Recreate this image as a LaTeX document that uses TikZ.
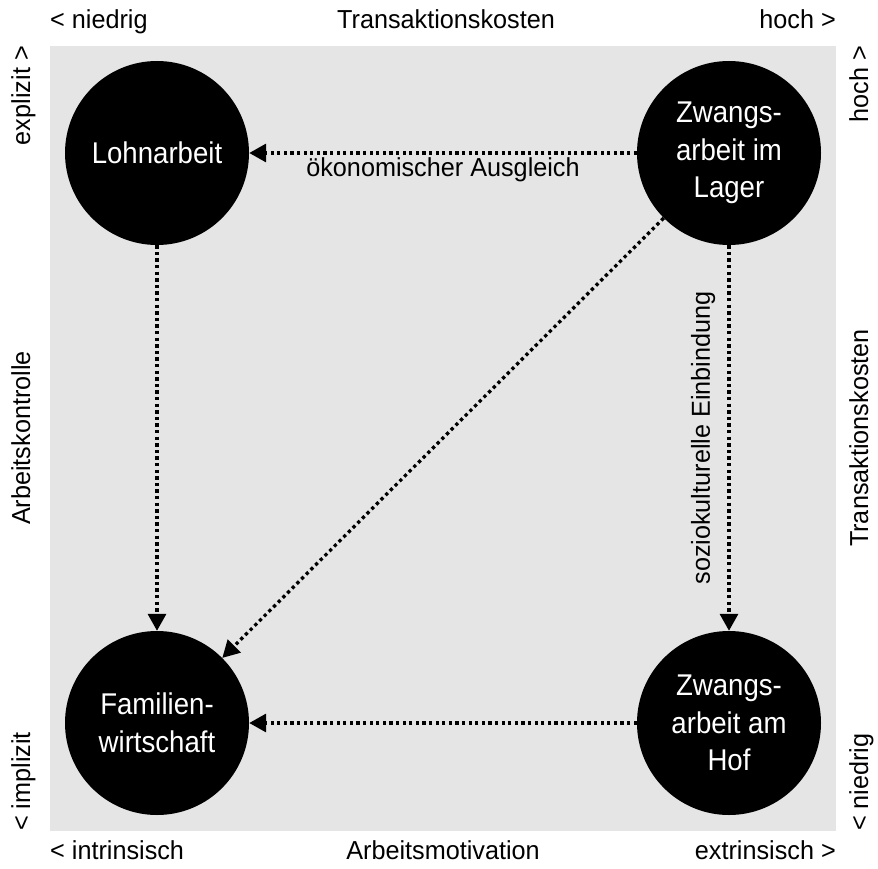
\documentclass[tikz,border=0pt]{standalone}
\usepackage{fontspec}
\setmainfont[FakeStretch=0.92]{Liberation Sans}
\newfontfamily\labelfont[FakeStretch=0.97]{Liberation Sans}
\usetikzlibrary{arrows.meta}

\begin{document}
\begin{tikzpicture}[x=1pt,y=-1pt,>={Triangle[length=17pt,width=18pt]},
		main node/.style={circle,fill=black,text=white,minimum size=184pt,inner sep=0pt,
			align=center,font=\fontsize{30}{37.5}\selectfont},
		axis label/.style={inner sep=0pt,font=\labelfont\fontsize{26}{31}\selectfont},
		link/.style={->,line width=3.3pt,dash pattern=on 3.3pt off 3.3pt}]
		\useasboundingbox (0,0) rectangle (878,869);
		\fill[gray!20] (50,46) rectangle (836,831);

		\node[main node] (lohn) at (157,153) {Lohnarbeit};
		\node[main node] (lager) at (729,153) {Zwangs-\\arbeit im\\Lager};
		\node[main node] (familie) at (157,723) {Familien-\\wirtschaft};
		\node[main node] (hof) at (729,723) {Zwangs-\\arbeit am\\Hof};

		\path[every node/.style={font=\labelfont\fontsize{26}{31}\selectfont}]
		(lager) edge[link] node[below] {ökonomischer Ausgleich} (lohn)
		(lohn) edge[link] (familie)
		(lager) edge[link] (familie)
		(lager) edge[link] node[rotate=90,anchor=south,inner sep=12pt] {soziokulturelle Einbindung} (hof)
		(hof) edge[link] (familie);

		% oben und unten
		\node[axis label,anchor=base west] (tkniedrig) at (50,29) {< niedrig};
		\node[axis label,anchor=base] (tkoben) at (446,29) {Transaktionskosten};
		\node[axis label,anchor=base east] (tkhoch) at (836,29) {hoch >};
		\node[axis label,anchor=base west] (intrinsisch) at (50,859) {< intrinsisch};
		\node[axis label,anchor=base] (motivation) at (443,859) {Arbeitsmotivation};
		\node[axis label,anchor=base east] (extrinsisch) at (836,859) {extrinsisch >};

		% links und rechts
		\node[axis label,rotate=90,anchor=base east] (explizit) at (30,46) {explizit >};
		\node[axis label,rotate=90,anchor=base] (kontrolle) at (30,438) {Arbeitskontrolle};
		\node[axis label,rotate=90,anchor=base west] (implizit) at (30,831) {< implizit};
		\node[axis label,rotate=90,anchor=base east] (tkrhoch) at (868,46) {hoch >};
		\node[axis label,rotate=90,anchor=base] (tkrechts) at (868,438) {Transaktionskosten};
		\node[axis label,rotate=90,anchor=base west] (tkrniedrig) at (868,831) {< niedrig};
\end{tikzpicture}
\end{document}
